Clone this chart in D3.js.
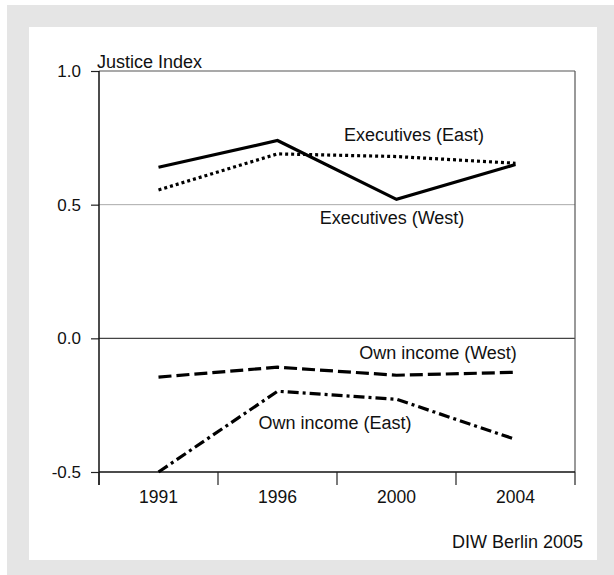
<!DOCTYPE html>
<html>
<head>
<meta charset="utf-8">
<script src="https://cdn.jsdelivr.net/npm/d3@7"></script>
<style>
  html, body { margin: 0; padding: 0; background: #fff; }
  svg text { font-family: "Liberation Sans", Arial, Helvetica, sans-serif; fill: #111; }
</style>
</head>
<body>
<svg id="chart" width="614" height="575"></svg>
<script>
const years = ["1991", "1996", "2000", "2004"];
const execEast = [0.64, 0.74, 0.52, 0.65];
const execWest = [0.555, 0.69, 0.68, 0.655];
const incomeWest = [-0.145, -0.108, -0.138, -0.127];
const incomeEast = [-0.5, -0.198, -0.228, -0.378];
const yTicks = [1.0, 0.5, 0.0, -0.5];
const seriesNames = ["Executives (East)", "Executives (West)", "Own income (West)", "Own income (East)"];
const yTitle = "Justice Index";
const source = "DIW Berlin 2005";

const svg = d3.select("#chart");
svg.append("rect").attr("x", 7).attr("y", 5).attr("width", 607).attr("height", 570).attr("fill", "#e5e5e5");
svg.append("rect").attr("x", 29).attr("y", 27).attr("width", 568).attr("height", 533).attr("fill", "#fff");

const x = d3.scaleBand().domain(years).range([99, 575]);
const y = d3.scaleLinear().domain([-0.5, 1.0]).range([472, 71]);

// grid / frame lines
svg.append("line").attr("x1", 99).attr("x2", 575).attr("y1", y(0.5)).attr("y2", y(0.5)).attr("stroke", "#aaa").attr("stroke-width", 1);
svg.append("line").attr("x1", 99).attr("x2", 575).attr("y1", y(0)).attr("y2", y(0)).attr("stroke", "#444").attr("stroke-width", 1.2);
svg.append("line").attr("x1", 99).attr("x2", 575).attr("y1", y(1)).attr("y2", y(1)).attr("stroke", "#555").attr("stroke-width", 1.2);
svg.append("line").attr("x1", 575).attr("x2", 575).attr("y1", y(1)).attr("y2", y(-0.5)).attr("stroke", "#555").attr("stroke-width", 1.2);

// y axis
const yAxis = d3.axisLeft(y).tickValues(yTicks).tickSize(8).tickPadding(10)
  .tickFormat(d => d3.format(".1f")(d).replace("−", "-"));
const gy = svg.append("g").attr("transform", "translate(99,0)").call(yAxis);
gy.select(".domain").remove();
gy.selectAll(".tick line").attr("stroke", "#222").attr("stroke-width", 1.2);
gy.selectAll(".tick text").style("font-size", "17px").attr("fill", "#111");
svg.append("line").attr("x1", 99).attr("x2", 99).attr("y1", y(1)).attr("y2", 485).attr("stroke", "#111").attr("stroke-width", 1.5);

// x axis
const gx = svg.append("g").attr("transform", `translate(0,${y(-0.5)})`);
gx.append("line").attr("x1", 99).attr("x2", 575).attr("y1", 0).attr("y2", 0).attr("stroke", "#111").attr("stroke-width", 1.3);
const edges = years.map(d => x(d)).concat([x.range()[1]]);
gx.selectAll("line.edge").data(edges).enter().append("line").attr("class", "edge")
  .attr("x1", d => d).attr("x2", d => d).attr("y1", 0).attr("y2", 13)
  .attr("stroke", "#222").attr("stroke-width", 1.2);
gx.selectAll("text.year").data(years).enter().append("text").attr("class", "year")
  .attr("x", d => x(d) + x.bandwidth() / 2).attr("y", 31)
  .attr("text-anchor", "middle").style("font-size", "17.5px").text(d => d);

// lines
const line = d3.line().x((d, i) => x(years[i]) + x.bandwidth() / 2).y(d => y(d));
const styles = [
  { data: execEast, dash: null },
  { data: execWest, dash: "3,3" },
  { data: incomeWest, dash: "13,5" },
  { data: incomeEast, dash: "11,4,3,4" }
];
styles.forEach(s => {
  svg.append("path").datum(s.data).attr("d", line).attr("fill", "none")
    .attr("stroke", "#000").attr("stroke-width", 3.2)
    .attr("stroke-dasharray", s.dash);
});

// labels
const labelPos = [[414, 141], [392, 224], [438, 359], [335, 429]];
seriesNames.forEach((n, i) => {
  svg.append("text").attr("x", labelPos[i][0]).attr("y", labelPos[i][1])
    .attr("text-anchor", "middle").style("font-size", "18px").text(n);
});

svg.append("text").attr("x", 97).attr("y", 68).style("font-size", "18px").text(yTitle);
svg.append("text").attr("x", 583).attr("y", 548).attr("text-anchor", "end").style("font-size", "18px").text(source);
</script>
</body>
</html>
